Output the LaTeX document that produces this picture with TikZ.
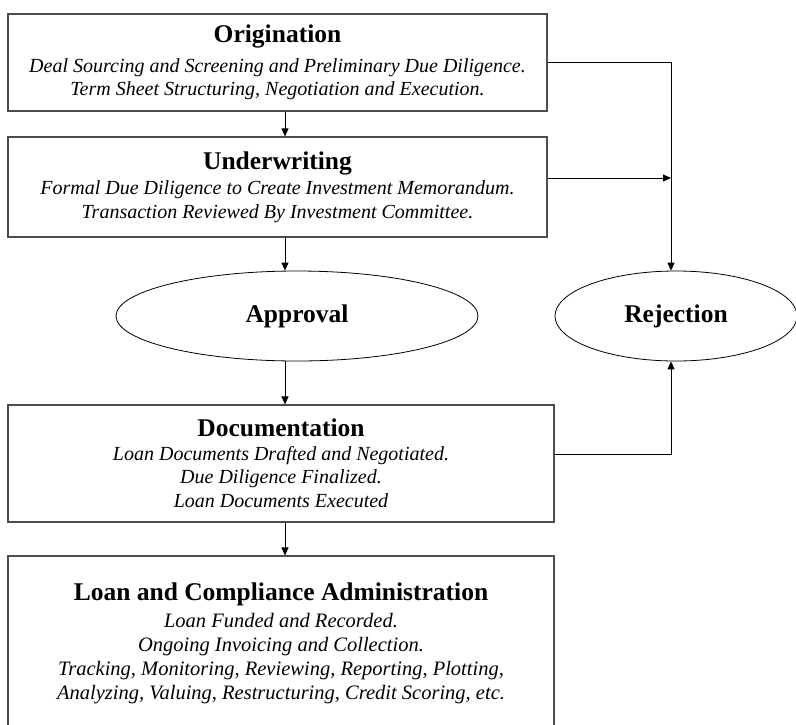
\documentclass[tikz,border=0pt]{standalone}
\usepackage{fontspec}
\setmainfont{Liberation Serif}
\usetikzlibrary{arrows.meta,shapes.geometric}
\newcommand\ttlfont{\fontsize{25.5}{29}\selectfont\bfseries\upshape}
\newcommand\bodyfont{\fontsize{20}{23.5}\selectfont\itshape}
\newcommand\bodyfontL{\fontsize{20.5}{24}\selectfont\itshape}
\begin{document}
\begin{tikzpicture}[x=1pt,y=-1pt,
  box/.style={draw=black!70, line width=1.1pt, rectangle, inner sep=0pt, align=center, font=\bodyfont},
  oval/.style={draw=black, line width=0.8pt, ellipse, inner sep=0pt, minimum height=90pt, font=\ttlfont},
  arr/.style={draw=black, line width=0.9pt, -{Triangle[width=7pt,length=8pt]}}]
\useasboundingbox (0,0) rectangle (796,724);
\node[box, minimum width=539pt, minimum height=97pt] (orig) at (277.5,62.5)
  {{\ttlfont Origination}\\[6pt]
   Deal Sourcing and Screening and Preliminary Due Diligence.\\
   Term Sheet Structuring, Negotiation and Execution.};
\node[box, minimum width=539pt, minimum height=100pt] (under) at (277.5,187)
  {{\ttlfont Underwriting}\\[2pt]
   Formal Due Diligence to Create Investment Memorandum.\\
   Transaction Reviewed By Investment Committee.};
\node[oval, minimum width=362pt] (appr) at (297,316) {Approval};
\node[oval, minimum width=242pt] (rej) at (676,316) {Rejection};
\node[box, minimum width=546pt, minimum height=117pt] (doc) at (281,463.5)
  {{\ttlfont Documentation}\\[0pt]
   Loan Documents Drafted and Negotiated.\\
   Due Diligence Finalized.\\
   Loan Documents Executed};
\node[box, font=\bodyfontL, minimum width=546pt, minimum height=174pt] (loan) at (281,643)
  {{\ttlfont Loan and Compliance Administration}\\[3pt]
   Loan Funded and Recorded.\\
   Ongoing Invoicing and Collection.\\
   Tracking, Monitoring, Reviewing, Reporting, Plotting,\\
   Analyzing, Valuing, Restructuring, Credit Scoring, etc.};
\coordinate (ax) at (285,0);
\coordinate (rx) at (671,0);
\coordinate (ue) at ([yshift=9pt]under.east);
\coordinate (de) at ([yshift=9pt]doc.east);
\draw[arr] (orig.south -| ax) -- (under.north -| ax);
\draw[arr] (under.south -| ax) -- (appr.north -| ax);
\draw[arr] (appr.south -| ax) -- (doc.north -| ax);
\draw[arr] (doc.south -| ax) -- (loan.north -| ax);
\draw[arr] (orig.east) -| (rej.north -| rx);
\draw[arr] (ue) -- (ue -| rx);
\draw[arr] (de) -| (rej.south -| rx);
\end{tikzpicture}
\end{document}
